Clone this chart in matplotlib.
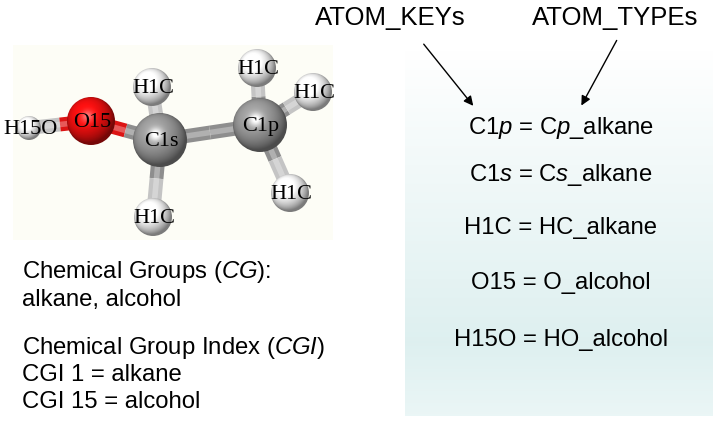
import numpy as np
import matplotlib
matplotlib.use("Agg")
import matplotlib.pyplot as plt
from matplotlib.patches import Circle, Rectangle

plt.rcParams["font.family"] = ["Liberation Sans", "DejaVu Sans"]
plt.rcParams["mathtext.fontset"] = "custom"
plt.rcParams["mathtext.rm"] = "Liberation Sans"
plt.rcParams["mathtext.it"] = "Liberation Sans:italic"
plt.rcParams["mathtext.bf"] = "Liberation Sans:bold"

# ── molecule data (image pixel coords) ───────────────────────────────────────
atom_labels = ["H15O", "O15", "C1s", "C1p", "H1C", "H1C", "H1C", "H1C", "H1C"]
atom_elem   = ["H", "O", "C", "C", "H", "H", "H", "H", "H"]
atom_x      = [29, 91, 160, 260, 152, 153, 257, 313, 290]
atom_y      = [128, 121, 140, 125, 87, 217, 68, 92, 193]
atom_r      = [12, 24, 27, 27, 19, 19, 19, 19, 19]
bonds       = [(0, 1), (1, 2), (2, 3), (2, 4), (2, 5), (3, 6), (3, 7), (3, 8)]

ELEM_COLOR  = {"H": (0.97, 0.97, 0.97), "O": (0.93, 0.06, 0.06), "C": (0.60, 0.60, 0.60)}
BOND_COLOR  = {"H": "#c4c4c4", "O": "#dc1414", "C": "#8e8e8e"}

# ── key / type table ────────────────────────────────────────────────────────
key_lines = [r"C1$\mathit{p}$ = C$\mathit{p}$_alkane",
             r"C1$\mathit{s}$ = C$\mathit{s}$_alkane",
             "H1C = HC_alkane",
             "O15 = O_alcohol",
             "H15O = HO_alcohol"]
key_y = [128, 175, 228, 283, 340]

group_lines = [r"Chemical Groups ($\mathit{CG}$):",
               "alkane, alcohol",
               r"Chemical Group Index ($\mathit{CGI}$)",
               "CGI 1 = alkane",
               "CGI 15 = alcohol"]
group_y = [272, 300, 348, 375, 402]

W, H = 713, 428
fig = plt.figure(figsize=(W / 100, H / 100), dpi=100)
ax = fig.add_axes([0, 0, 1, 1])
ax.set_xlim(0, W)
ax.set_ylim(H, 0)
ax.axis("off")

# molecule background
ax.add_patch(Rectangle((13, 45), 320, 195, facecolor="#fdfdf6", edgecolor="none", zorder=0))

# gradient box on the right
t = np.linspace(0, 1, 200)[:, None]
top = np.array([1.0, 1.0, 1.0])
mid = np.array([0.87, 0.94, 0.94])
bot = np.array([0.92, 0.965, 0.965])
grad = np.where(t < 0.8, top + (mid - top) * (t / 0.8), mid + (bot - mid) * ((t - 0.8) / 0.2))
grad = np.repeat(grad[:, None, :], 2, axis=1)
ax.imshow(grad, extent=(405, 713, 416, 50), aspect="auto", zorder=0.5, interpolation="bilinear")

# bonds: split at midpoint, coloured by element, cylinder look
for i, j in bonds:
    xm = (atom_x[i] + atom_x[j]) / 2
    ym = (atom_y[i] + atom_y[j]) / 2
    for k in (i, j):
        xa, ya = atom_x[k], atom_y[k]
        c = BOND_COLOR[atom_elem[k]]
        ax.plot([xa, xm], [ya, ym], color=c, lw=10, solid_capstyle="butt", zorder=1)
        ax.plot([xa, xm], [ya, ym], color="white", alpha=0.3, lw=4, solid_capstyle="butt", zorder=1.1)

# shaded spheres
n = 80
u = np.linspace(-1, 1, n)
U, V = np.meshgrid(u, u)
R2 = U ** 2 + V ** 2
Z = np.sqrt(np.clip(1 - R2, 0, 1))
L = np.array([-0.3, -0.4, 0.87]); L /= np.linalg.norm(L)
diff = np.clip(U * L[0] + V * L[1] + Z * L[2], 0, 1)
Hv = L + np.array([0, 0, 1.0]); Hv /= np.linalg.norm(Hv)
spec = np.clip(U * Hv[0] + V * Hv[1] + Z * Hv[2], 0, 1) ** 30

for k in range(len(atom_x)):
    base = np.array(ELEM_COLOR[atom_elem[k]])
    r = atom_r[k]
    img = base[None, None, :] * (0.5 + 0.6 * diff[..., None]) + 0.4 * spec[..., None]
    img = np.clip(img, 0, 1)
    x, y = atom_x[k], atom_y[k]
    im = ax.imshow(img, extent=(x - r, x + r, y + r, y - r), zorder=2 + k * 0.01,
                   interpolation="bilinear")
    im.set_clip_path(Circle((x, y), r, transform=ax.transData))

for k, lab in enumerate(atom_labels):
    ax.text(atom_x[k] + 1, atom_y[k] + 1, lab, ha="center", va="center",
            family="Liberation Serif", fontsize=16, color="black", zorder=5)

# headers and arrows
ax.text(390, 18, "ATOM_KEYs", ha="center", va="center", fontsize=18.5, zorder=5)
ax.text(615, 18, "ATOM_TYPEs", ha="center", va="center", fontsize=18.5, zorder=5)
arrow = dict(arrowstyle="-|>", color="black", lw=1.0, mutation_scale=14)
ax.annotate("", xy=(475, 108), xytext=(422, 42), arrowprops=arrow, zorder=5)
ax.annotate("", xy=(580, 108), xytext=(618, 38), arrowprops=arrow, zorder=5)

for s, y in zip(key_lines, key_y):
    ax.text(561, y, s, ha="center", va="center", fontsize=17.2, zorder=5)

for s, y in zip(group_lines, group_y):
    ax.text(22, y, s, ha="left", va="center", fontsize=17.2, zorder=5)

fig.savefig("out.png", dpi=100)
